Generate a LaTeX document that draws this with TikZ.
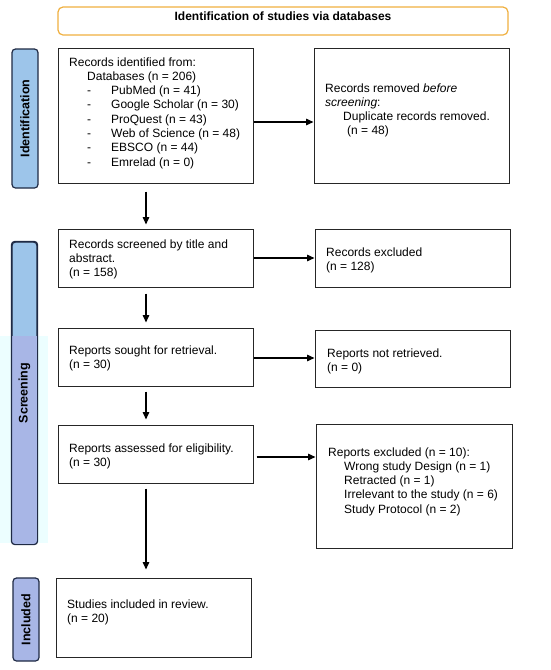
\documentclass[tikz,border=0pt]{standalone}
\usepackage{fontspec}
\setmainfont{Liberation Sans}
\usetikzlibrary{arrows.meta,fit}
\definecolor{orng}{HTML}{F0B040}
\definecolor{sideblue}{HTML}{9DC5EA}
\definecolor{sidelav}{HTML}{A8B6E6}
\definecolor{sideedge}{HTML}{1F2A44}
\definecolor{cyanbg}{HTML}{ECFEFF}
\begin{document}
\begin{tikzpicture}[x=1pt,y=-1pt,
  box/.style={draw=black!85, line width=1pt, inner sep=0pt},
  sidebox/.style={draw=sideedge, fill=sideblue, line width=1.2pt, rounded corners=3.5pt, inner sep=0pt},
  sidelabel/.style={rotate=90, font=\fontsize{12.5}{14}\selectfont\bfseries, inner sep=0pt},
  txt/.style={anchor=base west, inner sep=0pt, align=left, font=\fontsize{12}{14.3}\selectfont},
  arr/.style={line width=1.4pt, -{Triangle[length=7.5pt,width=6.5pt]}}
]
\useasboundingbox (0,0) rectangle (550,670);
\fill[white] (0,0) rectangle (550,670);
\fill[cyanbg] (0,336) rectangle (48,543);

% title
\node[draw=orng, line width=1.2pt, rounded corners=5pt, inner sep=0pt,
      fit={(58,7) (508,35)}, font=\fontsize{12}{14}\selectfont\bfseries] (title) {Identification of studies via databases};

% side boxes
\node[sidebox, fit={(12,49) (38,188)}] (sid) {};
\node[sidebox, fit={(12,242) (37,544)}] (sscr) {};
\begin{scope}
  \clip (0,336) rectangle (48,548);
  \fill[sidelav, rounded corners=3.5pt] (sscr.south west) rectangle (sscr.north east);
\end{scope}
\draw[sideedge, line width=1.2pt, rounded corners=3.5pt] (sscr.south west) rectangle (sscr.north east);
\node[sidebox, fill=sidelav, fit={(13,578) (39,661)}] (sinc) {};
\node[sidelabel] (lid) at (sid.center) {Identification};
\node[sidelabel] (lscr) at (sscr.center) {Screening};
\node[sidelabel] (linc) at (sinc.center) {Included};

% boxes
\node[box, fit={(58,48) (253,183)}] (ident) {};
\node[box, fit={(314,48) (509,183)}] (removed) {};
\node[box, fit={(58,229) (253,287)}] (screened) {};
\node[box, fit={(315,229) (510,287)}] (excluded) {};
\node[box, fit={(58,328) (253,386)}] (sought) {};
\node[box, fit={(315,330) (510,387)}] (notret) {};
\node[box, fit={(58,425) (253,483)}] (assessed) {};
\node[box, fit={(316,424) (512,548)}] (excl10) {};
\node[box, fit={(56,578) (251,657)}] (included) {};

% texts (anchor = baseline of last line)
\node[txt] (tident) at (69,166.1) {Records identified from:\\
\hspace*{18pt}Databases (n = 206)\\
\hspace*{18pt}\makebox[24pt][l]{-}PubMed (n = 41)\\
\hspace*{18pt}\makebox[24pt][l]{-}Google Scholar (n = 30)\\
\hspace*{18pt}\makebox[24pt][l]{-}ProQuest (n = 43)\\
\hspace*{18pt}\makebox[24pt][l]{-}Web of Science (n = 48)\\
\hspace*{18pt}\makebox[24pt][l]{-}EBSCO (n = 44)\\
\hspace*{18pt}\makebox[24pt][l]{-}Emrelad (n = 0)};
\node[txt] (tremoved) at (325,134.9) {Records removed \textit{before}\\
\textit{screening}:\\
\hspace*{18pt}Duplicate records removed.\\
\hspace*{22pt}(n = 48)};
\node[txt] (tscreened) at (69,276.6) {Records screened by title and\\abstract.\\(n = 158)};
\node[txt] (texcluded) at (326,270.3) {Records excluded\\(n = 128)};
\node[txt] (tsought) at (69,368.3) {Reports sought for retrieval.\\(n = 30)};
\node[txt] (tnotret) at (327,371.3) {Reports not retrieved.\\(n = 0)};
\node[txt] (tassessed) at (69,466.3) {Reports assessed for eligibility.\\(n = 30)};
\node[txt] (texcl10) at (328,513.2) {Reports excluded (n = 10):\\
\hspace*{16pt}Wrong study Design (n = 1)\\
\hspace*{16pt}Retracted (n = 1)\\
\hspace*{16pt}Irrelevant to the study (n = 6)\\
\hspace*{16pt}Study Protocol (n = 2)};
\node[txt] (tincluded) at (67,622.3) {Studies included in review.\\(n = 20)};

% horizontal arrows
\draw[arr] ([yshift=-6.5pt]ident.east) -- ([yshift=-6.5pt]ident.east -| removed.west);
\draw[arr] (screened.east) -- (screened.east -| excluded.west);
\draw[arr] ([yshift=-1pt]sought.east) -- ([yshift=-1pt]sought.east -| notret.west);
\draw[arr] ([xshift=3pt,yshift=-3pt]assessed.east) -- ([yshift=-3pt]assessed.east -| excl10.west);

% vertical arrows
\draw[arr, shorten <=8pt, shorten >=4pt] ([xshift=-9.5pt]ident.south) -- ([xshift=-9.5pt]ident.south |- screened.north);
\draw[arr, shorten <=6pt, shorten >=5pt] ([xshift=-9.5pt]screened.south) -- ([xshift=-9.5pt]screened.south |- sought.north);
\draw[arr, shorten <=5pt, shorten >=5pt] ([xshift=-9.5pt]sought.south) -- ([xshift=-9.5pt]sought.south |- assessed.north);
\draw[arr, shorten <=5pt, shorten >=8pt] ([xshift=-9.5pt]assessed.south) -- ([xshift=-9.5pt]assessed.south |- included.north);
\end{tikzpicture}
\end{document}
